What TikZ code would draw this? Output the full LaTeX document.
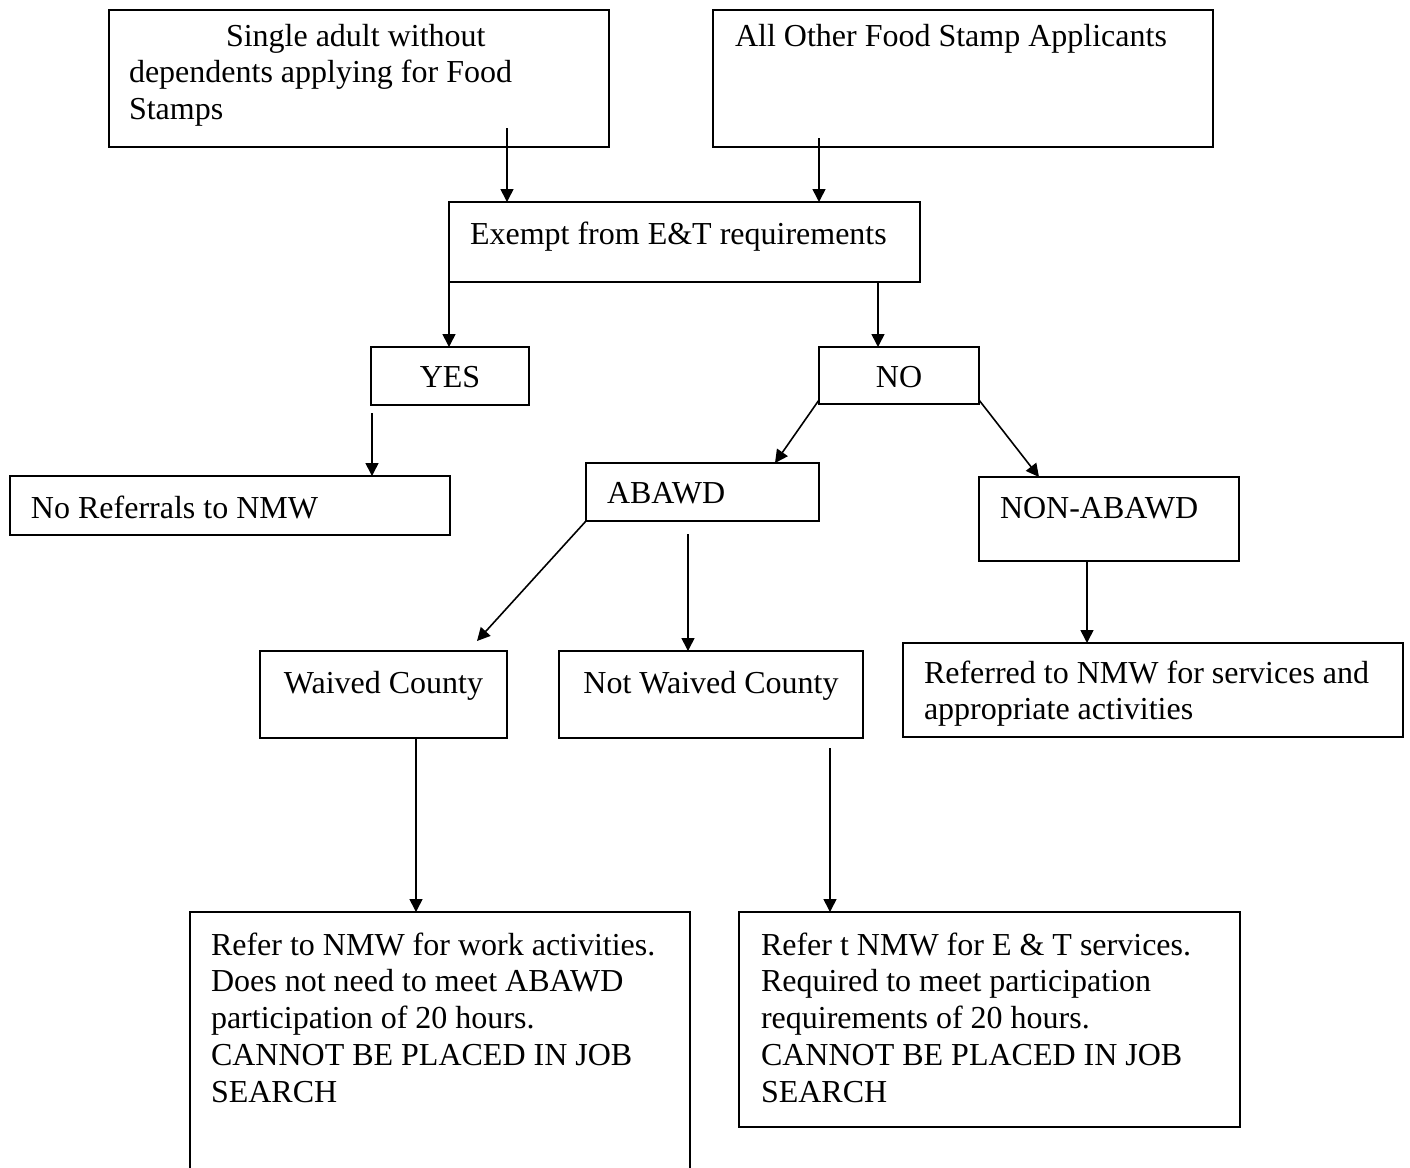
\documentclass[tikz,border=0pt]{standalone}
\usepackage{fontspec}
\setmainfont{Liberation Serif}
\usetikzlibrary{arrows.meta,fit}
\begin{document}
\begin{tikzpicture}[x=0.5pt,y=-0.5pt,
  box/.style={draw, line width=0.8pt, rectangle, inner sep=0pt, outer sep=0pt},
  txt/.style={inner sep=0pt, outer sep=0pt, align=left, font=\fontsize{16}{18.4}\selectfont},
  arr/.style={line width=0.8pt, -{Triangle[length=6.5pt,width=6.5pt]}}
]
\useasboundingbox (0,0) rectangle (1410,1168);
\begin{scope}
\clip (0,0) rectangle (1410,1168);

% boxes
\node[box, fit={(109,10) (609,147)}] (b1) {};
\node[box, fit={(713,10) (1213,147)}] (b2) {};
\node[box, fit={(449,202) (920,282)}] (ex) {};
\node[box, fit={(371,347) (529,405)}] (yes) {};
\node[box, fit={(819,347) (979,404)}] (no) {};
\node[box, fit={(10,476) (450,535)}] (noref) {};
\node[box, fit={(586,463) (819,521)}] (abawd) {};
\node[box, fit={(979,477) (1239,561)}] (nonab) {};
\node[box, fit={(260,651) (507,738)}] (waived) {};
\node[box, fit={(559,651) (863,738)}] (notw) {};
\node[box, fit={(903,643) (1403,737)}] (ref) {};
\node[box, fit={(190,912) (690,1185)}] (r1) {};
\node[box, fit={(739,912) (1240,1127)}] (r2) {};

% texts
\node[txt, anchor=north west] (tb1) at (129,20.24)
  {\strut\hspace*{48.5pt}Single adult without\\dependents applying for Food\\Stamps};
\node[txt, anchor=base west] (tb2) at (735,46) {All Other Food Stamp Applicants};
\node[txt, anchor=base west] (tex) at (470,244) {Exempt from E\&T requirements};
\node[txt, anchor=base] (tyes) at (450,387) {YES};
\node[txt, anchor=base] (tno) at (899,387) {NO};
\node[txt, anchor=base west] (tnoref) at (31,518) {No Referrals to NMW};
\node[txt, anchor=base west] (tab) at (607,503) {ABAWD};
\node[txt, anchor=base west] (tnon) at (1000,518) {NON-ABAWD};
\node[txt, anchor=base] (twc) at (383.5,693) {Waived County};
\node[txt, anchor=base] (tnwc) at (711,693) {Not Waived County};
\node[txt, anchor=north west] (tref) at (924,657.24)
  {\strut Referred to NMW for services and\\appropriate activities};
\node[txt, anchor=north west] (tr1) at (211,929.24)
  {\strut Refer to NMW for work activities.\\Does not need to meet ABAWD\\participation of 20 hours.\\CANNOT BE PLACED IN JOB\\SEARCH};
\node[txt, anchor=north west] (tr2) at (761,929.24)
  {\strut Refer t NMW for E \& T services.\\Required to meet participation\\requirements of 20 hours.\\CANNOT BE PLACED IN JOB\\SEARCH};

% connector end points
\coordinate (s1) at ([shift={(398,-19)}]b1.south west);
\coordinate (s2) at ([shift={(106,-9)}]b2.south west);
\coordinate (s4) at ([shift={(429,0)}]ex.south west);
\coordinate (s5) at ([shift={(1,8)}]yes.south west);
\coordinate (s6) at ([shift={(0,-4)}]no.south west);
\coordinate (e6) at ([shift={(-44,0)}]abawd.north east);
\coordinate (s7) at ([shift={(0,-4)}]no.south east);
\coordinate (e7) at ([shift={(60,0)}]nonab.north west);
\coordinate (e8) at ([shift={(217,-10)}]waived.north west);
\coordinate (s9) at ([shift={(102,13)}]abawd.south west);
\coordinate (s10) at ([shift={(108,0)}]nonab.south west);
\coordinate (s11) at ([shift={(156,0)}]waived.south west);
\coordinate (s12) at ([shift={(271,10)}]notw.south west);

% connectors
\draw[arr] (s1) -- (s1 |- ex.north);
\draw[arr] (s2) -- (s2 |- ex.north);
\draw[arr] (ex.south west) -- (ex.south west |- yes.north);
\draw[arr] (s4) -- (s4 |- no.north);
\draw[arr] (s5) -- (s5 |- noref.north);
\draw[arr] (s6) -- (e6);
\draw[arr] (s7) -- (e7);
\draw[arr] (abawd.south west) -- (e8);
\draw[arr] (s9) -- (s9 |- notw.north);
\draw[arr] (s10) -- (s10 |- ref.north);
\draw[arr] (s11) -- (s11 |- r1.north);
\draw[arr] (s12) -- (s12 |- r2.north);
\end{scope}
\end{tikzpicture}
\end{document}
